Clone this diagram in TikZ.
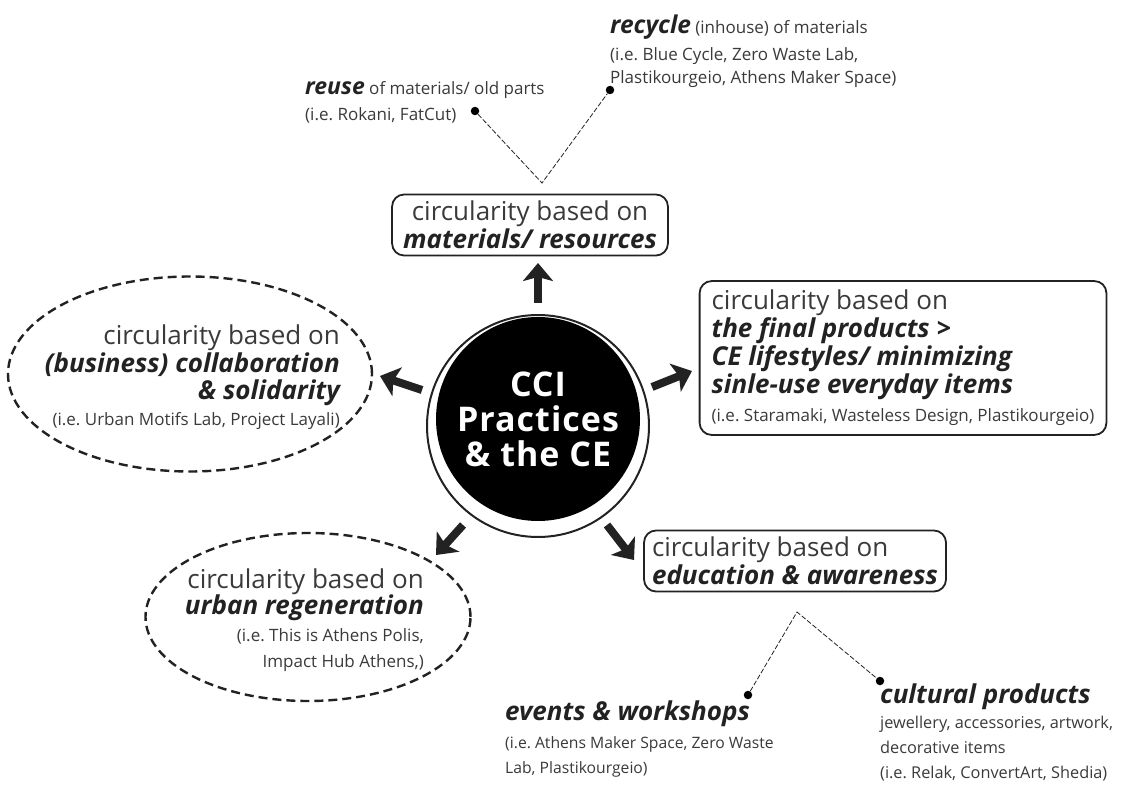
\documentclass[tikz,border=0pt]{standalone}
\usepackage{fontspec}
\setmainfont{Open Sans}
\usetikzlibrary{shapes.geometric,arrows.meta}
\definecolor{ink}{HTML}{222222}
\definecolor{softink}{HTML}{3A3A3A}
\newcommand\hi[1]{{\bfseries\itshape\color{ink}#1}}
\newcommand\lo[1]{{\color{softink}#1}}
\newcommand\bigsz{\fontsize{26}{28}\selectfont}
\newcommand\smallsz{\fontsize{17}{25}\selectfont}
\begin{document}
\frenchspacing
\begin{tikzpicture}[x=1pt,y=-1pt,
  rbox/.style={draw=ink,line width=1.8pt,rounded corners=12pt,inner xsep=10pt,inner ysep=5pt,font=\bigsz},
  dashell/.style={ellipse,draw=ink,line width=2.4pt,dash pattern=on 9pt off 5pt,inner sep=0pt},
  ovaltext/.style={inner sep=0pt,anchor=north east,align=right},
  heavyarrow/.style={draw=ink,line width=8pt,-{Stealth[length=18pt,width=30pt,inset=4pt]}},
  dashlink/.style={draw=ink,line width=0.8pt,dash pattern=on 5pt off 2pt},
  dotmark/.style={circle,fill=black,inner sep=0pt,minimum size=8.5pt},
  freetext/.style={inner sep=0pt,anchor=north west,align=left,text=softink}]
\useasboundingbox (0,0) rectangle (1126,786);

% central hub
\node[circle,draw=ink,line width=2pt,minimum size=222pt,inner sep=0pt] (ring) at (538,426) {};
\node[circle,fill=black,minimum size=204pt,inner sep=0pt,text=white,align=center,
  font=\fontsize{34}{35}\selectfont\bfseries\addfontfeatures{LetterSpace=3}] (cci) at (538,419) {CCI\\Practices\\\& the CE};

% the five themes
\node[rbox,align=center,inner xsep=11pt,inner ysep=6.5pt] (mat) at (530,225)
  {\lo{circularity based on}\\\hi{materials/ resources}};
\node[rbox,align=left,inner xsep=12pt,inner ysep=9pt] (prod) at (903,358)
  {\lo{circularity based on}\\\hi{the final products >}\\\hi{CE lifestyles/ minimizing}\\\hi{sinle-use everyday items}\\{\smallsz\lo{(i.e. Staramaki, Wasteless Design, Plastikourgeio)}}};
\node[rbox,align=left,inner xsep=8pt,inner ysep=6.5pt] (edu) at (795,561)
  {\lo{circularity based on}\\\hi{education \& awareness}};

\node[dashell,minimum width=364pt,minimum height=195pt] (collab) at (190,374) {};
\node[ovaltext,font=\fontsize{26}{27.5}\selectfont] (collabtext) at (340,325)
  {\lo{circularity based on}\\\hi{(business) collaboration}\\\hi{\& solidarity}\\[-2pt]{\smallsz\lo{(i.e. Urban Motifs Lab, Project Layali)}}};
\node[dashell,minimum width=325pt,minimum height=168pt] (urban) at (308,617) {};
\node[ovaltext,font=\fontsize{26}{26}\selectfont] (urbantext) at (424,569)
  {\lo{circularity based on}\\\hi{urban regeneration}\\[1pt]{\smallsz\lo{(i.e. This is Athens Polis,}}\\{\smallsz\lo{Impact Hub Athens,)}}};

% arrows out of the hub
\coordinate (upS) at (538,303);   \coordinate (upE) at (538,263);
\coordinate (lfS) at (422,390);   \coordinate (lfE) at (380,376);
\coordinate (rtS) at (652,387);   \coordinate (rtE) at (692,371);
\coordinate (dlS) at (463,525);   \coordinate (dlE) at (436,555);
\coordinate (drS) at (607,525);   \coordinate (drE) at (634,560);
\draw[heavyarrow] (upS) -- (upE);
\draw[heavyarrow] (lfS) -- (lfE);
\draw[heavyarrow] (rtS) -- (rtE);
\draw[heavyarrow] (dlS) -- (dlE);
\draw[heavyarrow] (drS) -- (drE);

% materials branch
\node[freetext,font=\smallsz] (reuse) at (305,81)
  {\hi{\fontsize{23}{23}\selectfont reuse} of materials/ old parts\\[1pt](i.e. Rokani, FatCut)};
\node[freetext,font=\smallsz] (recycle) at (610,15)
  {\hi{\fontsize{24.5}{25}\selectfont recycle} (inhouse) of materials\\[2pt](i.e. Blue Cycle, Zero Waste Lab,\\[-2pt]Plastikourgeio, Athens Maker Space)};
\node[dotmark] (reusedot) at (475,111) {};
\node[dotmark] (recycledot) at (610,90) {};
\coordinate (matfork) at (542,183);
\draw[dashlink] (reusedot) -- (matfork) -- (recycledot);

% education branch
\node[freetext,font=\fontsize{15.7}{25}\selectfont] (events) at (505,701)
  {\hi{\fontsize{26}{25}\selectfont events \& workshops}\\[3pt](i.e. Athens Maker Space, Zero Waste\\Lab, Plastikourgeio)};
\node[freetext,font=\fontsize{16.3}{25}\selectfont] (cultural) at (880,684)
  {\hi{\fontsize{26}{25}\selectfont cultural products}\\jewellery, accessories, artwork,\\decorative items\\(i.e. Relak, ConvertArt, Shedia)};
\node[dotmark] (eventsdot) at (748,695) {};
\node[dotmark] (culturaldot) at (880,681) {};
\coordinate (edufork) at (797,612);
\draw[dashlink] (eventsdot) -- (edufork) -- (culturaldot);
\end{tikzpicture}
\end{document}
